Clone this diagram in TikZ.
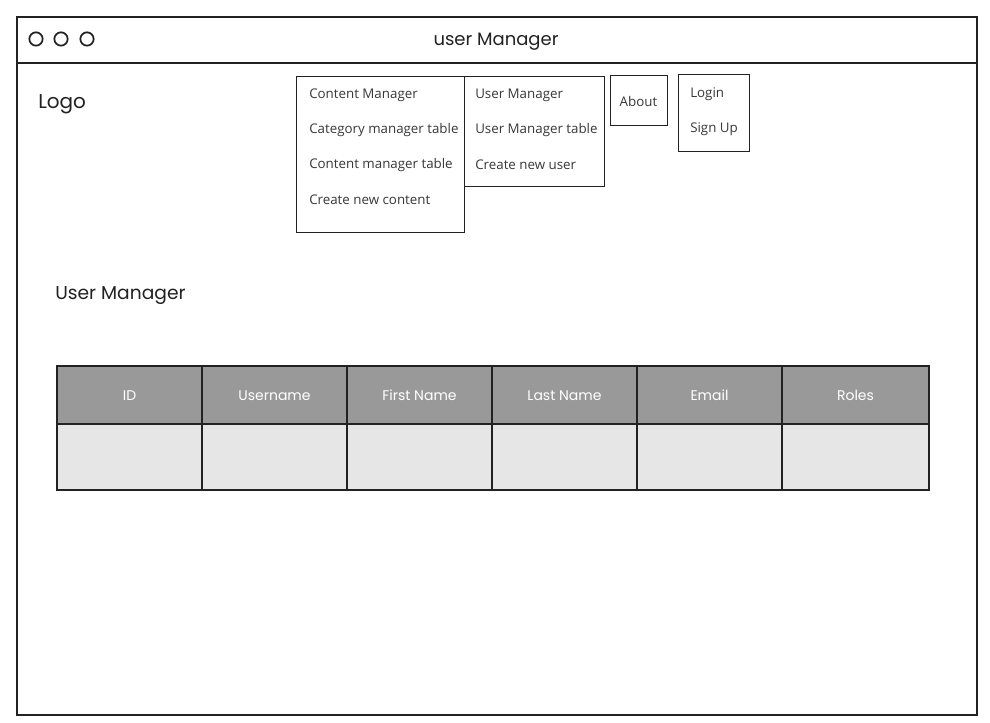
\documentclass[tikz,border=0pt]{standalone}
\usepackage{fontspec}
\setmainfont{Open Sans}
\newfontfamily\handfont{Poppins}
\definecolor{hdrgray}{HTML}{999999}
\definecolor{bodygray}{HTML}{E6E6E6}
\definecolor{ink}{HTML}{222222}
\begin{document}
\begin{tikzpicture}[x=0.75pt,y=-0.75pt,
  winline/.style={draw=ink,line width=1.5pt},
  menubox/.style={draw=ink,line width=0.75pt},
  menutext/.style={anchor=west,inner sep=0pt,font=\fontsize{10}{12}\selectfont,text=ink!90},
  handtext/.style={anchor=base west,inner sep=0pt,font=\handfont\fontsize{13}{15}\selectfont,text=ink},
  hdrcell/.style={fill=hdrgray},
  bodycell/.style={fill=bodygray},
  hdrtext/.style={anchor=base,inner sep=0pt,font=\handfont\fontsize{10.5}{12}\selectfont,text=white},
  gridline/.style={draw=ink,line width=1.1pt},
  dot/.style={circle,draw=ink,line width=1.3pt,minimum size=10pt,inner sep=0pt}]
\useasboundingbox (0,0) rectangle (990,723);
\fill[white] (0,0) rectangle (990,723);
% window
\draw[winline] (17,17) rectangle (977,715);
\draw[winline] (17,63) -- (977,63);
\node[dot] (d1) at (36,39) {};
\node[dot] (d2) at (61,39) {};
\node[dot] (d3) at (87,39) {};
\node[anchor=base,inner sep=0pt,font=\handfont\fontsize{13.5}{15}\selectfont,text=ink] (title) at (496,46) {user Manager};
\node[handtext,font=\handfont\fontsize{15}{17}\selectfont] (logo) at (38,109) {Logo};
% menus
\draw[menubox] (296,77) rectangle (464,233);
\node[menutext] (c1) at (309,95) {Content Manager};
\node[menutext] (c2) at (309,130) {Category manager table};
\node[menutext] (c3) at (309,165) {Content manager table};
\node[menutext] (c4) at (309,200) {Create new content};
\draw[menubox] (464,77) rectangle (604,187);
\node[menutext] (u1) at (475,95) {User Manager};
\node[menutext] (u2) at (475,130) {User Manager table};
\node[menutext] (u3) at (475,165) {Create new user};
\draw[menubox] (610,76) rectangle (667,126);
\node[inner sep=0pt,font=\fontsize{10}{12}\selectfont,text=ink!90] (about) at (638.5,102) {About};
\draw[menubox] (678,75) rectangle (749,152);
\node[menutext] (login) at (690,94) {Login};
\node[menutext] (signup) at (690,129) {Sign Up};
% heading
\node[handtext,font=\handfont\fontsize{14}{16}\selectfont] (um) at (55,300) {User Manager};
% table
\fill[hdrcell] (57,366) rectangle (929,424);
\fill[bodycell] (57,424) rectangle (929,489);
\draw[gridline] (57,366) rectangle (929,490);
\draw[gridline] (57,424) -- (929,424);
\foreach \x in {202,347,492,637,782} \draw[gridline] (\x,366) -- (\x,490);
\node[hdrtext] (h1) at (129.5,401) {ID};
\node[hdrtext] (h2) at (274.5,401) {Username};
\node[hdrtext] (h3) at (419.5,401) {First Name};
\node[hdrtext] (h4) at (564.5,401) {Last Name};
\node[hdrtext] (h5) at (709.5,401) {Email};
\node[hdrtext] (h6) at (855.5,401) {Roles};
\end{tikzpicture}
\end{document}
